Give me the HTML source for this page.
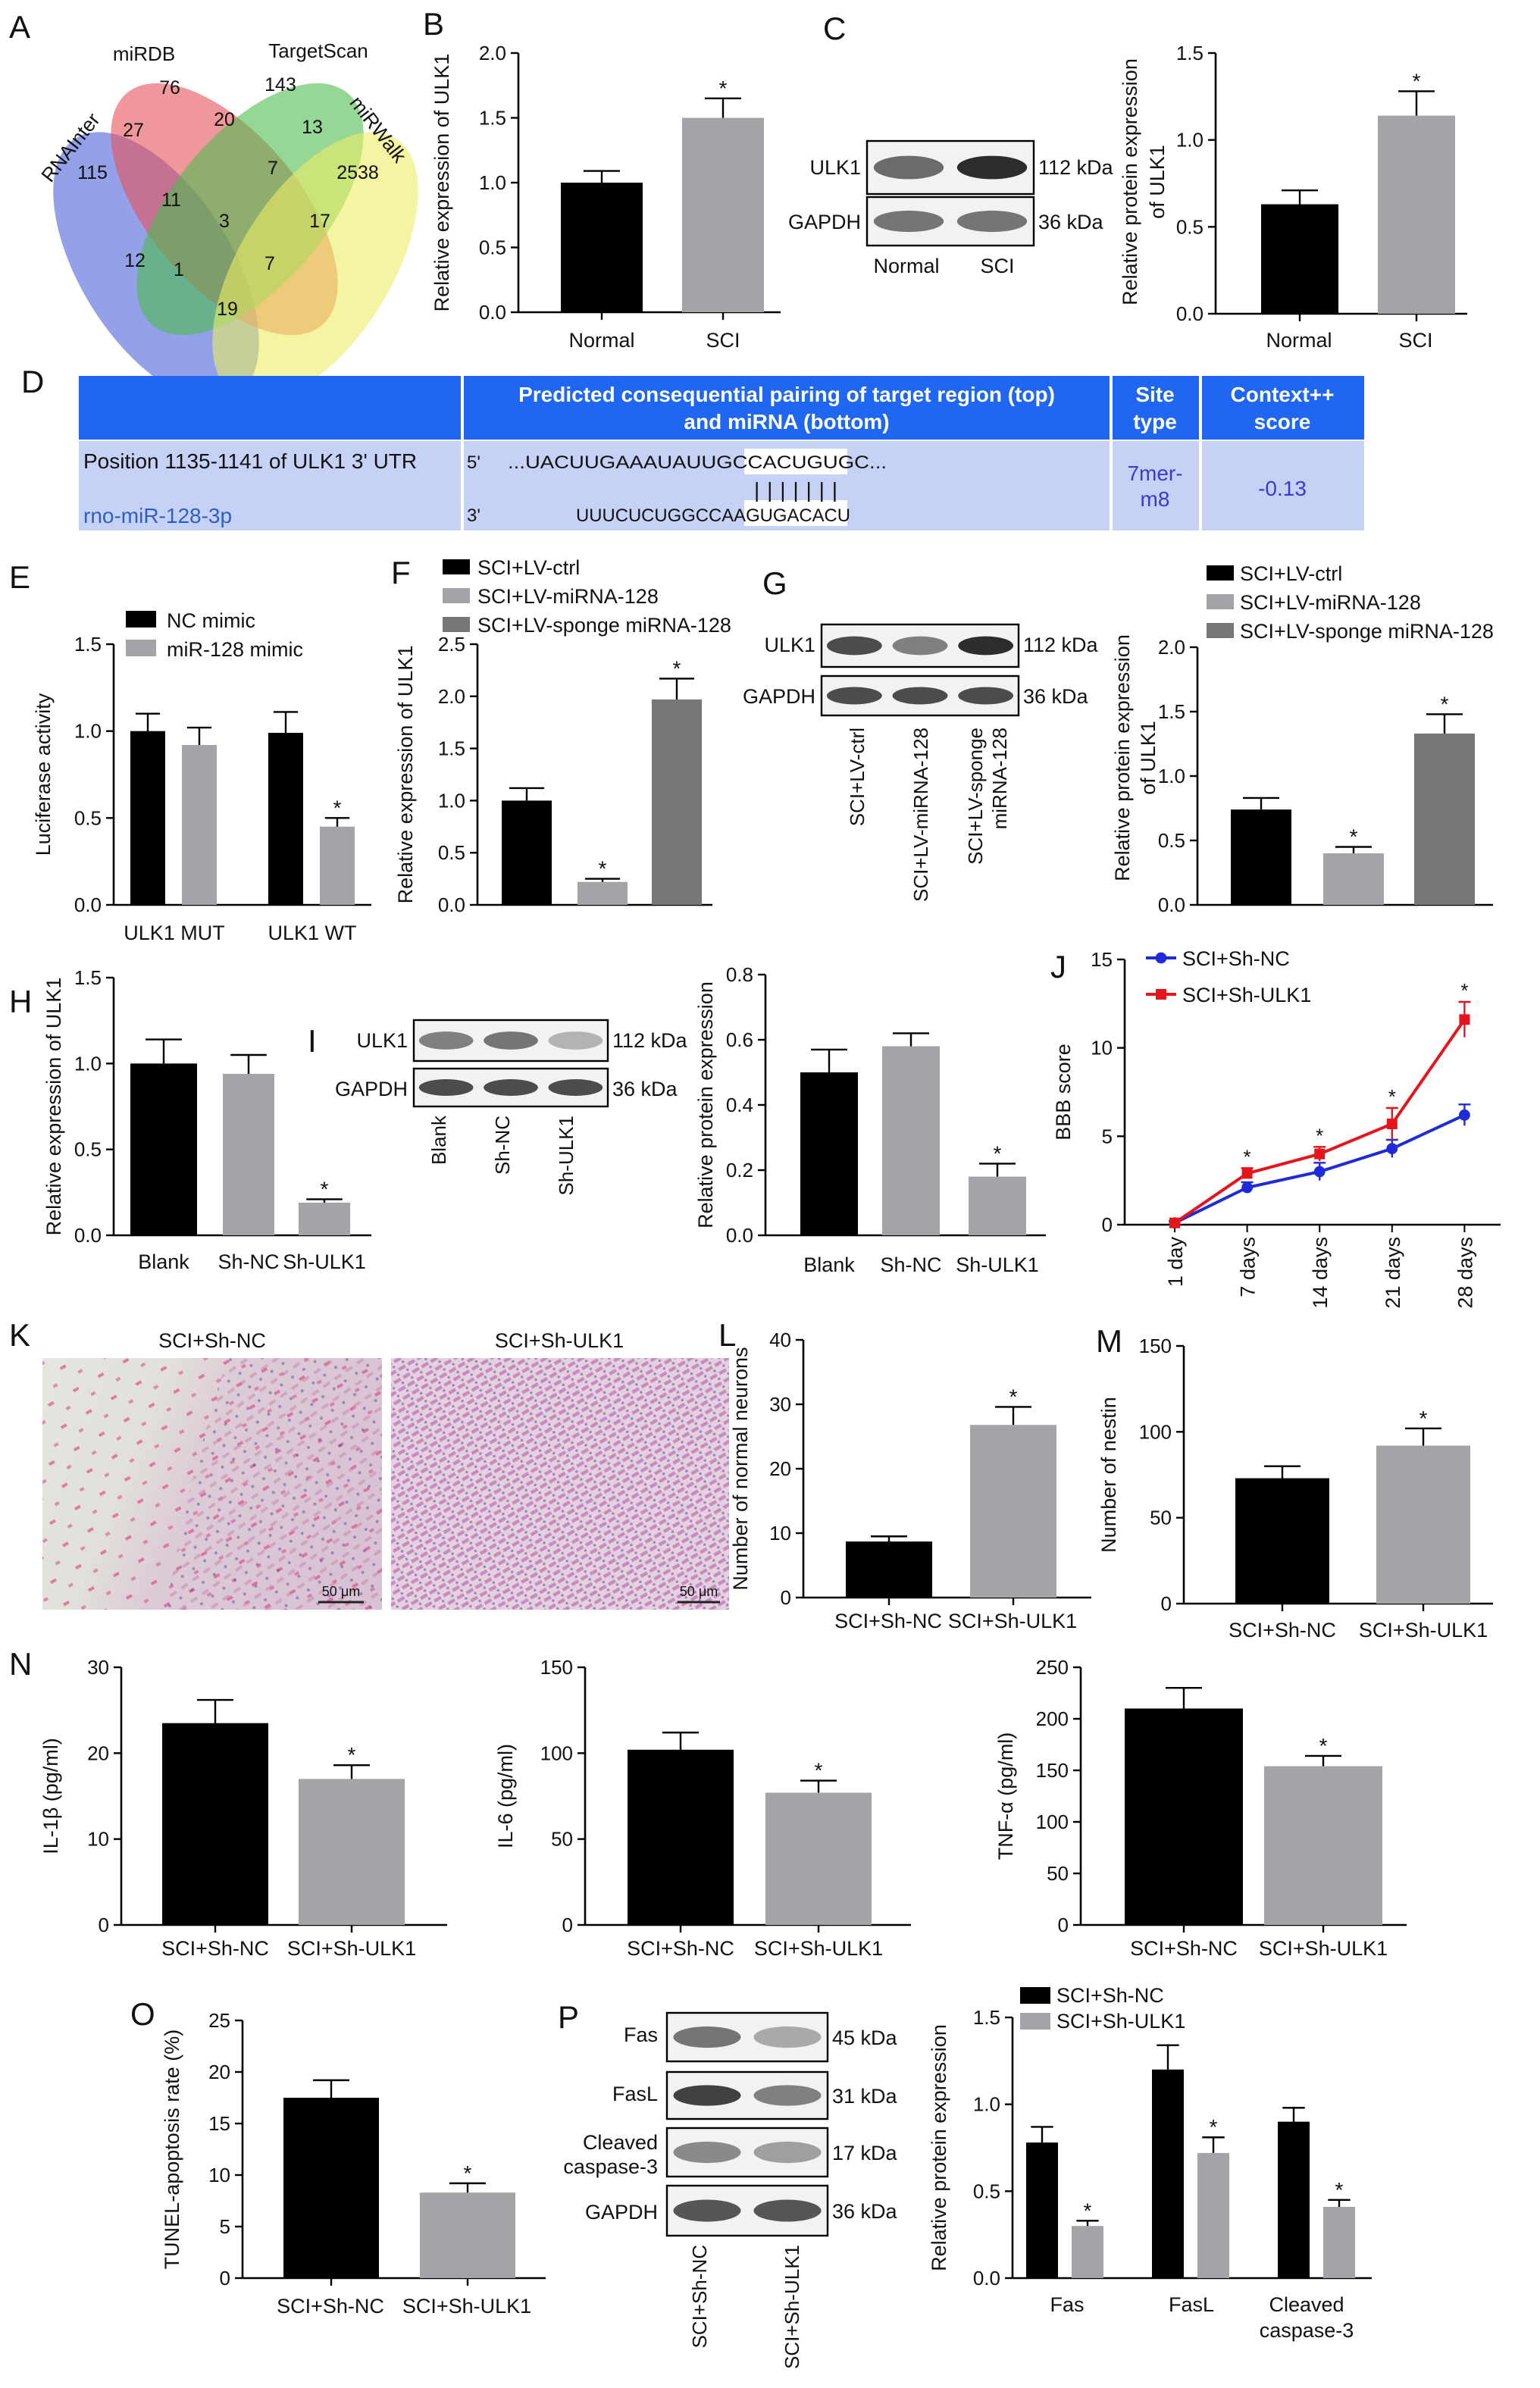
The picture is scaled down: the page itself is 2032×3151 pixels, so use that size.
<!DOCTYPE html>
<html><head><meta charset="utf-8"><style>
html,body{margin:0;padding:0;background:#fff}
svg{display:block}
text{font-family:"Liberation Sans",Arial,sans-serif;fill:#111}
</style></head><body>
<svg id="fig" width="2032" height="3151" viewBox="0 0 1016 1575.5" xmlns="http://www.w3.org/2000/svg">
<defs>
<linearGradient id="histL" x1="0" y1="0" x2="1" y2="0.3"><stop offset="0" stop-color="#e4e6e0"/><stop offset="0.35" stop-color="#e1e0da"/><stop offset="0.55" stop-color="#dccbd6"/><stop offset="1" stop-color="#d8c3d4"/></linearGradient>
<pattern id="cellsL" width="9" height="11" patternUnits="userSpaceOnUse" patternTransform="rotate(-35)"><rect x="1" y="2" width="5" height="2" fill="#c97fb0" opacity="0.5"/><circle cx="6" cy="8" r="1" fill="#5a4a9a" opacity="0.5"/></pattern>
<pattern id="cellsS" width="19" height="17" patternUnits="userSpaceOnUse" patternTransform="rotate(-30)"><rect x="1" y="2" width="4" height="2" fill="#e0508a" opacity="0.7"/><rect x="10" y="10" width="3" height="2" fill="#e0508a" opacity="0.6"/></pattern>
<pattern id="cellsR" width="7" height="6" patternUnits="userSpaceOnUse" patternTransform="rotate(-30)"><rect x="0" y="1" width="5" height="2.2" fill="#c46fb8" opacity="0.75"/><circle cx="5" cy="5" r="0.9" fill="#4a3f9a" opacity="0.5"/></pattern>
</defs>
<g id="root"></g>
</svg>
<script>
// ---------- data ----------
const bCats=["Normal","SCI"]; const bVals=[1.0,1.5]; const bErr=[0.09,0.15];
const cCats=["Normal","SCI"]; const cVals=[0.63,1.14]; const cErr=[0.08,0.14];
const eCats=["ULK1 MUT","ULK1 WT"]; const eNC=[1.0,0.99]; const eNCerr=[0.1,0.12]; const eMiR=[0.92,0.45]; const eMiRerr=[0.1,0.05];
const fCats=["SCI+LV-ctrl","SCI+LV-miRNA-128","SCI+LV-sponge miRNA-128"]; const fVals=[1.0,0.22,1.97]; const fErr=[0.12,0.03,0.2];
const gVals=[0.74,0.40,1.33]; const gErr=[0.09,0.05,0.15];
const hCats=["Blank","Sh-NC","Sh-ULK1"]; const hVals=[1.0,0.94,0.19]; const hErr=[0.14,0.11,0.02];
const iVals=[0.50,0.58,0.18]; const iErr=[0.07,0.04,0.04];
const jCats=["1 day","7 days","14 days","21 days","28 days"]; const jNC=[0.1,2.1,3.0,4.3,6.2]; const jNCerr=[0.1,0.3,0.5,0.5,0.6]; const jULK=[0.1,2.9,4.0,5.7,11.6]; const jULKerr=[0.1,0.3,0.4,0.9,1.0];
const lCats=["SCI+Sh-NC","SCI+Sh-ULK1"]; const lVals=[8.7,26.8]; const lErr=[0.8,2.8];
const mVals=[73,92]; const mErr=[7,10];
const n1Vals=[23.5,17]; const n1Err=[2.7,1.6];
const n2Vals=[102,77]; const n2Err=[10,7];
const n3Vals=[210,154]; const n3Err=[20,10];
const oVals=[17.5,8.3]; const oErr=[1.7,0.9];
const pCats=["Fas","FasL","Cleaved caspase-3"]; const pNC=[0.78,1.20,0.90]; const pNCerr=[0.09,0.14,0.08]; const pULK=[0.30,0.72,0.41]; const pULKerr=[0.03,0.09,0.04];
const vennCounts=["76","143","27","20","13","115","11","7","2538","12","3","17","1","7","19"];

const GRAY='#a3a3a8';
// ---------- helpers ----------
const NS="http://www.w3.org/2000/svg";
const root=document.getElementById('root');
function el(tag,attrs,parent,txt){const e=document.createElementNS(NS,tag);for(const k in attrs)e.setAttribute(k,attrs[k]);if(txt!==undefined)e.textContent=txt;(parent||root).appendChild(e);return e;}
function T(x,y,s,size,opt){opt=opt||{};const e=el('text',{x:x,y:y,'font-size':size||13,'text-anchor':opt.a||'middle'},opt.p,s);if(opt.rot!==undefined)e.setAttribute('transform','rotate('+opt.rot+' '+x+' '+y+')');if(opt.fill)e.setAttribute('style','fill:'+opt.fill);if(opt.w)e.setAttribute('font-weight',opt.w);return e;}
function group(name){const g=el('g',{});return g;}
function axis(g,x0,y0,y1,xEnd,max,ticks,fmt,title,titleX){
  el('line',{x1:x0,y1:y0,x2:x0,y2:y1,stroke:'#000','stroke-width':1.3},g);
  el('line',{x1:x0,y1:y0,x2:xEnd,y2:y0,stroke:'#000','stroke-width':1.3},g);
  const sc=v=>y0-(y0-y1)*v/max;
  ticks.forEach(t=>{const y=sc(t);el('line',{x1:x0-5,y1:y,x2:x0,y2:y,stroke:'#000','stroke-width':1.2},g);const tl=T(x0-8,y+4.5,fmt(t),13,{a:'end',p:g});});
  if(title){const tt=T(titleX,(y0+y1)/2,title,13.5,{rot:-90,p:g});}
  return sc;
}
function bar(g,sc,x,w,v,err,fill,star,xt){
  const y=sc(v),y0=sc(0);
  const r=el('rect',{x:x,y:y,width:w,height:y0-y,fill:fill},g);
  
  
  const ye=sc(v+err),cx=x+w/2,cw=Math.min(w*0.35,12);
  el('line',{x1:cx,y1:y,x2:cx,y2:ye,stroke:'#000','stroke-width':1.2},g);
  el('line',{x1:cx-cw,y1:ye,x2:cx+cw,y2:ye,stroke:'#000','stroke-width':1.2},g);
  if(xt)el('line',{x1:cx,y1:y0,x2:cx,y2:y0+5,stroke:'#000','stroke-width':1.2},g);
  if(star)T(cx,ye-2,'*',14,{p:g});
}
const f1=t=>t.toFixed(1), f0=t=>String(t);
function label(s,x,y){const t=T(x,y,s,21,{a:'start'});}
function blot(g,x,y,w,h,lanes,intens,name){
  const b=el('rect',{x:x,y:y,width:w,height:h,fill:'#f2f2f2',stroke:'#000','stroke-width':1.2},g);
  
  
  const lw=w/lanes;
  intens.forEach((a,i)=>{el('ellipse',{cx:x+lw*(i+0.5),cy:y+h/2,rx:lw*0.42,ry:h*0.22,fill:'#222',opacity:a},g);});
}

// ---------- A Venn ----------
label('A',6,25);
(function(){const g=group('venn-diagram');
 const E=[['#4a63d8',103,176,50,100,-32],['#e6525a',148,138,50,100,-40],['#4fbd4f',165,138,50,100,40],['#ecec66',208,176,50,100,32]];
 E.forEach(e=>{const c=el('ellipse',{cx:e[1],cy:e[2],rx:e[3],ry:e[4],fill:e[0],'fill-opacity':0.6,transform:'rotate('+e[5]+' '+e[1]+' '+e[2]+')'},g);});
 const pos=[[112,62],[185,60],[88,90],[148,83],[206,88],[61,118],[113,136],[180,115],[236,118],[89,176],[148,150],[211,150],[118,182],[178,178],[150,208]];
 vennCounts.forEach((s,i)=>{const t=T(pos[i][0],pos[i][1],s,12.5,{p:g});});
 T(95,40,'miRDB',13,{p:g});T(210,38,'TargetScan',13,{p:g});
 T(50,100,'RNAInter',13,{p:g,rot:-52});T(246,88,'miRWalk',13,{p:g,rot:52});
})();

// ---------- B ----------
label('B',279,23);
(function(){const g=group('chart-b');const sc=axis(g,342,206,35,515,2.0,[0,0.5,1,1.5,2],f1,'Relative expression of ULK1',296);
 const xs=[370,450];bCats.forEach((c,i)=>{bar(g,sc,xs[i],54,bVals[i],bErr[i],i?GRAY:'#000',i==1,true);T(xs[i]+27,229,c,13.5,{p:g});});})();

// ---------- C ----------
label('C',543,26);
(function(){const g=group('blot-c');
 blot(g,572,93,110,35,2,[0.65,0.95],'blot-ulk1');blot(g,572,130,110,32,2,[0.6,0.6],'blot-gapdh');
 T(568,115,'ULK1',13.5,{a:'end',p:g});T(568,151,'GAPDH',13.5,{a:'end',p:g});
 T(685,115,'112 kDa',13.5,{a:'start',p:g});T(685,151,'36 kDa',13.5,{a:'start',p:g});
 T(598,180,'Normal',13.5,{p:g});T(658,180,'SCI',13.5,{p:g});
 const g2=group('chart-c');const sc=axis(g2,802,207,35,968,1.5,[0,0.5,1,1.5],f1,'',0);
 T(750,120,'Relative protein expression',13.5,{rot:-90,p:g2});T(768,120,'of ULK1',13.5,{rot:-90,p:g2});
 const xs=[832,909];cCats.forEach((c,i)=>{bar(g2,sc,xs[i],51,cVals[i],cErr[i],i?GRAY:'#000',i==1,true);T(xs[i]+25,229,c,13.5,{p:g2});});})();

// ---------- D ----------
label('D',14,259);
(function(){const g=group('targetscan-table');
 el('rect',{x:52,y:248,width:848,height:42,fill:'#1f66f0'},g);
 el('rect',{x:52,y:291,width:848,height:59,fill:'#c5d2f6'},g);
 [305,733,792].forEach(x=>{el('line',{x1:x,y1:248,x2:x,y2:350,stroke:'#fff','stroke-width':2},g);});
 T(519,265,'Predicted consequential pairing of target region (top)',14,{p:g,fill:'#fff',w:'bold'});
 T(519,283,'and miRNA (bottom)',14,{p:g,fill:'#fff',w:'bold'});
 T(762,265,'Site',14,{p:g,fill:'#fff',w:'bold'});T(762,283,'type',14,{p:g,fill:'#fff',w:'bold'});
 T(846,265,'Context++',14,{p:g,fill:'#fff',w:'bold'});T(846,283,'score',14,{p:g,fill:'#fff',w:'bold'});
 T(55,309,'Position 1135-1141 of ULK1 3\' UTR',14,{a:'start',p:g});
 T(55,345,'rno-miR-128-3p',14,{a:'start',p:g,fill:'#2d5fc4'});
 el('rect',{x:491,y:296,width:68,height:17,fill:'#fff'},g);el('rect',{x:491,y:330,width:68,height:17,fill:'#fff'},g);
 T(308,309,'5\'',12,{a:'start',p:g});T(308,344,'3\'',12,{a:'start',p:g});
 const t1=T(335,309,'...UACUUGAAAUAUUGCCACUGUGC...',12,{a:'start',p:g});t1.setAttribute('textLength','250');t1.setAttribute('lengthAdjust','spacingAndGlyphs');
 const t2=T(380,344,'UUUCUCUGGCCAAGUGACACU',12,{a:'start',p:g});t2.setAttribute('textLength','181');t2.setAttribute('lengthAdjust','spacingAndGlyphs');
 const t3=T(525,328,'|||||||',14,{p:g});t3.setAttribute('textLength','55');t3.setAttribute('lengthAdjust','spacing');
 T(762,317,'7mer-',14,{p:g,fill:'#3a3ad0'});T(762,334,'m8',14,{p:g,fill:'#3a3ad0'});
 T(846,327,'-0.13',14,{p:g,fill:'#3a3ad0'});})();

// ---------- E ----------
label('E',6,388);
(function(){const g=group('chart-e');const sc=axis(g,75,597,425,245,1.5,[0,0.5,1,1.5],f1,'Luciferase activity',33);
 el('rect',{x:83,y:403,width:20,height:11,fill:'#000'},g);T(110,414,'NC mimic',13.5,{a:'start',p:g});
 el('rect',{x:83,y:422,width:20,height:11,fill:GRAY},g);T(110,433,'miR-128 mimic',13.5,{a:'start',p:g});
 const gx=[86,177];eCats.forEach((c,i)=>{bar(g,sc,gx[i],23,eNC[i],eNCerr[i],'#000',false);bar(g,sc,gx[i]+34,23,eMiR[i],eMiRerr[i],GRAY,i==1);T(gx[i]+29,620,c,13.5,{p:g});});})();

// ---------- F ----------
label('F',258,385);
(function(){const g=group('chart-f');const sc=axis(g,315,597,425,470,2.5,[0,0.5,1,1.5,2,2.5],f1,'Relative expression of ULK1',272);
 const cols=['#000',GRAY,'#777'];
 fCats.forEach((c,i)=>{el('rect',{x:292,y:369+i*19,width:18,height:10,fill:cols[i]},g);T(315,379+i*19,c,13.5,{a:'start',p:g});});
 const xs=[331,381,430];fVals.forEach((v,i)=>bar(g,sc,xs[i],33,v,fErr[i],cols[i],i>0));})();

// ---------- G ----------
label('G',503,392);
(function(){const g=group('blot-g');
 blot(g,542,412,130,28,3,[0.8,0.55,0.95],'blot-ulk1');blot(g,542,446,130,26,3,[0.8,0.8,0.8],'blot-gapdh');
 T(538,430,'ULK1',13.5,{a:'end',p:g});T(538,464,'GAPDH',13.5,{a:'end',p:g});
 T(675,430,'112 kDa',13.5,{a:'start',p:g});T(675,464,'36 kDa',13.5,{a:'start',p:g});
 T(570,480,'SCI+LV-ctrl',13,{a:'end',p:g,rot:-90});T(612,480,'SCI+LV-miRNA-128',13,{a:'end',p:g,rot:-90});
 T(648,480,'SCI+LV-sponge',13,{a:'end',p:g,rot:-90});T(664,480,'miRNA-128',13,{a:'end',p:g,rot:-90});
 const g2=group('chart-g');const sc=axis(g2,790,597,427,985,2.0,[0,0.5,1,1.5,2],f1,'',0);
 T(745,500,'Relative protein expression',13.5,{rot:-90,p:g2});T(762,500,'of ULK1',13.5,{rot:-90,p:g2});
 const cols=['#000',GRAY,'#777'];
 fCats.forEach((c,i)=>{el('rect',{x:796,y:373+i*19,width:18,height:10,fill:cols[i]},g2);T(818,383+i*19,c,13.5,{a:'start',p:g2});});
 const xs=[812,873,933];gVals.forEach((v,i)=>bar(g2,sc,xs[i],40,v,gErr[i],cols[i],i>0));})();

// ---------- H ----------
label('H',6,668);
(function(){const g=group('chart-h');const sc=axis(g,75,815,645,245,1.5,[0,0.5,1,1.5],f1,'Relative expression of ULK1',40);
 const xs=[86,147,197],w=[44,34,34],cols=['#000',GRAY,GRAY];
 hCats.forEach((c,i)=>{bar(g,sc,xs[i],w[i],hVals[i],hErr[i],cols[i],i==2);T(xs[i]+w[i]/2,837,c,13.5,{p:g});});})();

// ---------- I ----------
label('I',203,694);
(function(){const g=group('blot-i');
 blot(g,273,673,128,27,3,[0.55,0.6,0.3],'blot-ulk1');blot(g,273,705,128,25,3,[0.8,0.8,0.8],'blot-gapdh');
 T(269,691,'ULK1',13.5,{a:'end',p:g});T(269,723,'GAPDH',13.5,{a:'end',p:g});
 T(404,691,'112 kDa',13.5,{a:'start',p:g});T(404,723,'36 kDa',13.5,{a:'start',p:g});
 hCats.forEach((c,i)=>T(294+i*42,736,c,13,{a:'end',p:g,rot:-90}));
 const g2=group('chart-i');const sc=axis(g2,505,815,643,690,0.8,[0,0.2,0.4,0.6,0.8],f1,'Relative protein expression',470);
 const xs=[528,582,639],cols=['#000',GRAY,GRAY];
 hCats.forEach((c,i)=>{bar(g2,sc,xs[i],38,iVals[i],iErr[i],cols[i],i==2);T(xs[i]+19,839,c,13.5,{p:g2});});})();

// ---------- J ----------
label('J',693,645);
(function(){const g=group('chart-j');const sc=axis(g,742,808,633,990,15,[0,5,10,15],f0,'BBB score',706);
 const xs=jCats.map((c,i)=>775+i*47.8);
 jCats.forEach((c,i)=>{el('line',{x1:xs[i],y1:808,x2:xs[i],y2:813,stroke:'#000'},g);T(xs[i]+5,816,c,13.5,{a:'end',p:g,rot:-90});});
 function series(vals,errs,col,sq,name){
  const pl=el('polyline',{points:vals.map((v,i)=>xs[i]+','+sc(v)).join(' '),fill:'none',stroke:col,'stroke-width':2},g);
  
  
  vals.forEach((v,i)=>{el('line',{x1:xs[i],y1:sc(v-errs[i]),x2:xs[i],y2:sc(v+errs[i]),stroke:col,'stroke-width':1.2},g);el('line',{x1:xs[i]-4,y1:sc(v+errs[i]),x2:xs[i]+4,y2:sc(v+errs[i]),stroke:col,'stroke-width':1.2},g);
   if(sq)el('rect',{x:xs[i]-3.5,y:sc(v)-3.5,width:7,height:7,fill:col},g);else el('circle',{cx:xs[i],cy:sc(v),r:3.7,fill:col},g);});}
 series(jNC,jNCerr,'#1f2bd8',false,'line-sh-nc');series(jULK,jULKerr,'#e8141c',true,'line-sh-ulk1');
 jULK.forEach((v,i)=>{if(i>0)T(xs[i],sc(v+jULKerr[i])-3,'*',13,{p:g});});
 el('line',{x1:756,y1:632,x2:776,y2:632,stroke:'#1f2bd8','stroke-width':2},g);el('circle',{cx:766,cy:632,r:3.7,fill:'#1f2bd8'},g);T(780,637,'SCI+Sh-NC',13.5,{a:'start',p:g});
 el('line',{x1:756,y1:656,x2:776,y2:656,stroke:'#e8141c','stroke-width':2},g);el('rect',{x:762.5,y:652.5,width:7,height:7,fill:'#e8141c'},g);T(780,661,'SCI+Sh-ULK1',13.5,{a:'start',p:g});})();

// ---------- K ----------
label('K',6,888);
(function(){const g=group('histology-images');
 T(140,889,'SCI+Sh-NC',13.5,{p:g});T(369,889,'SCI+Sh-ULK1',13.5,{p:g});
 const a=el('rect',{x:28,y:896,width:224,height:166,fill:'url(#histL)'},g);
 el('rect',{x:28,y:896,width:224,height:166,fill:'url(#cellsS)'},g);
 el('path',{d:'M150,896 L252,896 L252,1062 L110,1062 Q120,990 150,896 Z',fill:'url(#cellsL)'},g);
 const b=el('rect',{x:258,y:896,width:223,height:166,fill:'#e3d2de'},g);
 el('rect',{x:258,y:896,width:223,height:166,fill:'url(#cellsR)'},g);
 el('line',{x1:210,y1:1057,x2:240,y2:1057,stroke:'#222','stroke-width':1.5},g);T(225,1053,'50 μm',9,{p:g});
 el('line',{x1:447,y1:1057,x2:475,y2:1057,stroke:'#222','stroke-width':1.5},g);T(461,1053,'50 μm',9,{p:g});})();

// ---------- L ----------
label('L',474,888);
(function(){const g=group('chart-l');const sc=axis(g,530,1054,884,720,40,[0,10,20,30,40],f0,'Number of normal neurons',493);
 const xs=[558,640];lCats.forEach((c,i)=>{bar(g,sc,xs[i],57,lVals[i],lErr[i],i?GRAY:'#000',i==1,true);T(xs[i]+28,1074,c,13.5,{p:g});});})();

// ---------- M ----------
label('M',723,892);
(function(){const g=group('chart-m');const sc=axis(g,781,1058,888,985,150,[0,50,100,150],f0,'Number of nestin',736);
 const xs=[815,908];lCats.forEach((c,i)=>{bar(g,sc,xs[i],62,mVals[i],mErr[i],i?GRAY:'#000',i==1,true);T(xs[i]+31,1080,c,13.5,{p:g});});})();

// ---------- N ----------
label('N',6,1105);
function nChart(name,x0,max,ticks,vals,errs,title,tx,xs,w){const g=group(name);const sc=axis(g,x0,1270,1100,x0+215,max,ticks,f0,title,tx);
 lCats.forEach((c,i)=>{bar(g,sc,xs[i],w,vals[i],errs[i],i?GRAY:'#000',i==1,true);T(xs[i]+w/2,1290,c,13.5,{p:g});});}
nChart('chart-n-il1b',80,30,[0,10,20,30],n1Vals,n1Err,'IL-1β (pg/ml)',38,[107,197],70);
nChart('chart-n-il6',386,150,[0,50,100,150],n2Vals,n2Err,'IL-6 (pg/ml)',338,[414,505],70);
nChart('chart-n-tnfa',713,250,[0,50,100,150,200,250],n3Vals,n3Err,'TNF-α (pg/ml)',668,[742,834],78);

// ---------- O ----------
label('O',86,1336);
(function(){const g=group('chart-o');const sc=axis(g,160,1503,1333,360,25,[0,5,10,15,20,25],f0,'TUNEL-apoptosis rate (%)',118);
 const xs=[187,277];lCats.forEach((c,i)=>{bar(g,sc,xs[i],63,oVals[i],oErr[i],i?GRAY:'#000',i==1,true);T(xs[i]+31,1526,c,13.5,{p:g});});})();

// ---------- P ----------
label('P',368,1338);
(function(){const g=group('blot-p');
 const rows=[[1328,32,'Fas','45 kDa',[0.6,0.35]],[1367,31,'FasL','31 kDa',[0.85,0.55]],[1404,32,'Cleaved caspase-3','17 kDa',[0.5,0.4]],[1442,33,'GAPDH','36 kDa',[0.75,0.75]]];
 rows.forEach(r=>{blot(g,440,r[0],106,r[1],2,r[4],'blot-'+r[2].toLowerCase().replace(/ /g,'-'));T(549,r[0]+r[1]/2+5,r[3],13.5,{a:'start',p:g});});
 T(434,1347,'Fas',13.5,{a:'end',p:g});T(434,1386,'FasL',13.5,{a:'end',p:g});T(434,1418,'Cleaved',13.5,{a:'end',p:g});T(434,1434,'caspase-3',13.5,{a:'end',p:g});T(434,1464,'GAPDH',13.5,{a:'end',p:g});
 T(466,1481,'SCI+Sh-NC',13,{a:'end',p:g,rot:-90});T(527,1481,'SCI+Sh-ULK1',13,{a:'end',p:g,rot:-90});
 const g2=group('chart-p');const sc=axis(g2,668,1503,1331,905,1.5,[0,0.5,1,1.5],f1,'Relative protein expression',624);
 el('rect',{x:673,y:1311,width:20,height:11,fill:'#000'},g2);T(697,1321,'SCI+Sh-NC',13.5,{a:'start',p:g2});
 el('rect',{x:673,y:1328,width:20,height:11,fill:GRAY},g2);T(697,1338,'SCI+Sh-ULK1',13.5,{a:'start',p:g2});
 const gx=[677,760,843];pCats.forEach((c,i)=>{bar(g2,sc,gx[i],21,pNC[i],pNCerr[i],'#000',false);bar(g2,sc,gx[i]+30,21,pULK[i],pULKerr[i],GRAY,true);});
 T(704,1525,'Fas',13.5,{p:g2});T(786,1525,'FasL',13.5,{p:g2});T(862,1525,'Cleaved',13.5,{p:g2});T(862,1542,'caspase-3',13.5,{p:g2});})();
</script>
</body></html>
